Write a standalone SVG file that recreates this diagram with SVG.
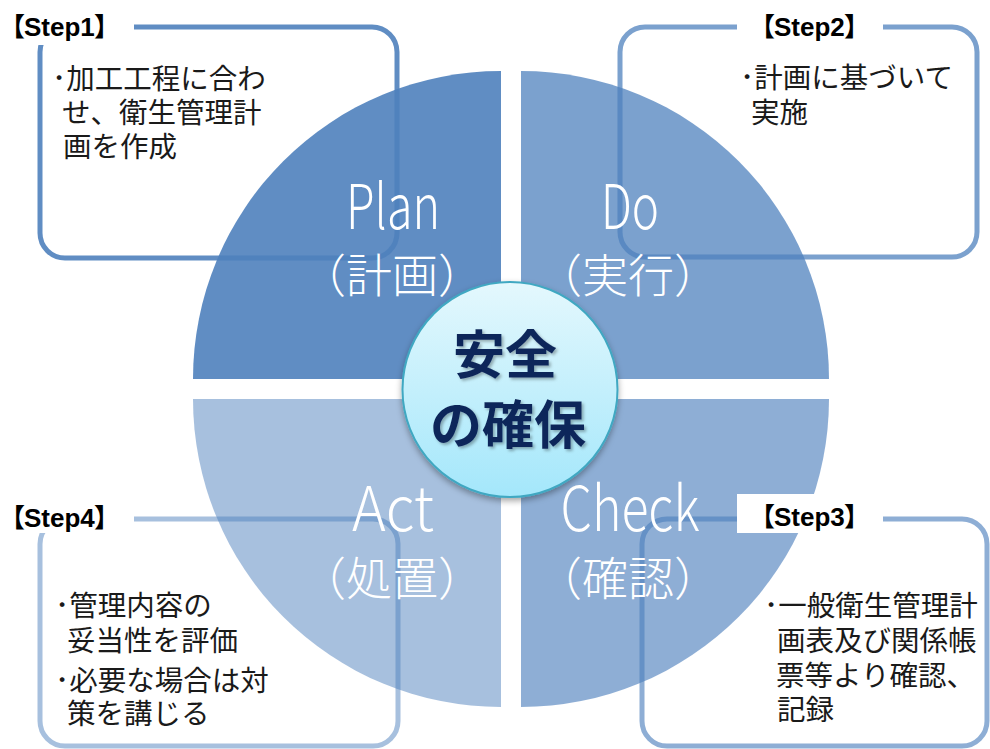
<svg xmlns="http://www.w3.org/2000/svg" width="990" height="749" viewBox="0 0 990 749">
<defs>
<linearGradient id="cg" x1="0" y1="0" x2="0" y2="1">
<stop offset="0" stop-color="#e4f8fd"/>
<stop offset="1" stop-color="#a4e7fb"/>
</linearGradient>
<filter id="csh" x="-20%" y="-20%" width="140%" height="150%">
<feDropShadow dx="0" dy="3" stdDeviation="3" flood-color="#000" flood-opacity="0.35"/>
</filter>
<filter id="tsh" x="-20%" y="-20%" width="140%" height="150%">
<feDropShadow dx="2" dy="2" stdDeviation="1.5" flood-color="#000" flood-opacity="0.3"/>
</filter>
</defs>
<style>
.q{fill:#4F81BD}
.box{fill:none;stroke:#4F81BD;stroke-width:5}
.lbg{fill:#fff}
.qt{font-family:'Noto Sans CJK JP','Noto Sans',sans-serif;font-weight:300;fill:#fff;text-anchor:middle}
.qe{font-size:62px}
.qj{font-size:46px}
.br{font-family:'Noto Sans CJK JP',sans-serif;font-weight:bold;font-size:26px;fill:#000}
.st{font-family:'Liberation Sans',Arial,sans-serif;font-weight:bold;font-size:26px;fill:#000}
.bt{font-family:'Noto Sans CJK JP',sans-serif;font-size:28.5px;fill:#1a1a1a}
.ct{font-family:'Noto Sans CJK JP',sans-serif;font-weight:bold;font-size:52px;fill:#10285a;text-anchor:middle}
</style>

<g id="quadrants">
<path id="plan-q" class="q" fill-opacity="0.9" d="M501,379 L193,379 A308,308 0 0 1 501,71 Z"/>
<path id="do-q" class="q" fill-opacity="0.75" d="M521,379 L521,71 A308,308 0 0 1 829,379 Z"/>
<path id="check-q" class="q" fill-opacity="0.64" d="M521,399 L829,399 A308,308 0 0 1 521,707 Z"/>
<path id="act-q" class="q" fill-opacity="0.5" d="M501,399 L501,707 A308,308 0 0 1 193,399 Z"/>
</g>

<g id="step1">
<rect class="box" stroke-opacity="0.9" x="40" y="27" width="357" height="231" rx="25"/>
<rect class="lbg" x="0" y="0" width="134" height="45"/>
<text class="br" y="36"><tspan x="-1">【</tspan><tspan class="st" x="24">Step1</tspan><tspan x="94">】</tspan></text>
<text class="bt"><tspan x="52" y="89">･加工工程に合わ</tspan><tspan x="62" y="123">せ、衛生管理計</tspan><tspan x="63" y="157">画を作成</tspan></text>
</g>

<g id="step2">
<rect class="box" stroke-opacity="0.75" x="620" y="27" width="357" height="230" rx="25"/>
<rect class="lbg" x="737" y="8" width="146" height="37"/>
<text class="br" y="36"><tspan x="749">【</tspan><tspan class="st" x="774">Step2</tspan><tspan x="844">】</tspan></text>
<text class="bt"><tspan x="740" y="88">･計画に基づいて</tspan><tspan x="751" y="123">実施</tspan></text>
</g>

<g id="step3">
<rect class="box" stroke-opacity="0.64" x="642" y="519" width="345" height="227" rx="25"/>
<rect class="lbg" x="737" y="494" width="146" height="39"/>
<text class="br" y="526"><tspan x="749">【</tspan><tspan class="st" x="774">Step3</tspan><tspan x="844">】</tspan></text>
<text class="bt"><tspan x="764" y="616">･一般衛生管理計</tspan><tspan x="777" y="651">画表及び関係帳</tspan><tspan x="776" y="686">票等より確認、</tspan><tspan x="777" y="720">記録</tspan></text>
</g>

<g id="step4">
<rect class="box" stroke-opacity="0.5" x="40" y="519" width="358" height="227" rx="25"/>
<rect class="lbg" x="0" y="498" width="134" height="35"/>
<text class="br" y="527"><tspan x="-1">【</tspan><tspan class="st" x="24">Step4</tspan><tspan x="94">】</tspan></text>
<text class="bt"><tspan x="55" y="616">･管理内容の</tspan><tspan x="67" y="651">妥当性を評価</tspan><tspan x="55" y="691">･必要な場合は対</tspan><tspan x="67" y="724">策を講じる</tspan></text>
</g>

<g id="labels">
<text class="qt qe" x="393" y="229" textLength="94" lengthAdjust="spacingAndGlyphs">Plan</text>
<text class="qt qj" x="392" y="292">（計画）</text>
<text class="qt qe" x="630" y="229" textLength="58" lengthAdjust="spacingAndGlyphs">Do</text>
<text class="qt qj" x="628" y="292">（実行）</text>
<text class="qt qe" x="393" y="531" textLength="82" lengthAdjust="spacingAndGlyphs">Act</text>
<text class="qt qj" x="392" y="595">（処置）</text>
<text class="qt qe" x="630" y="531" textLength="139" lengthAdjust="spacingAndGlyphs">Check</text>
<text class="qt qj" x="628" y="595">（確認）</text>
</g>

<g id="center">
<circle cx="510" cy="389.5" r="107.5" fill="url(#cg)" stroke="#3fa8c2" stroke-width="2" filter="url(#csh)"/>
<g filter="url(#tsh)">
<text class="ct" x="505" y="374">安全</text>
<text class="ct" x="508" y="444">の確保</text>
</g>
</g>
</svg>
